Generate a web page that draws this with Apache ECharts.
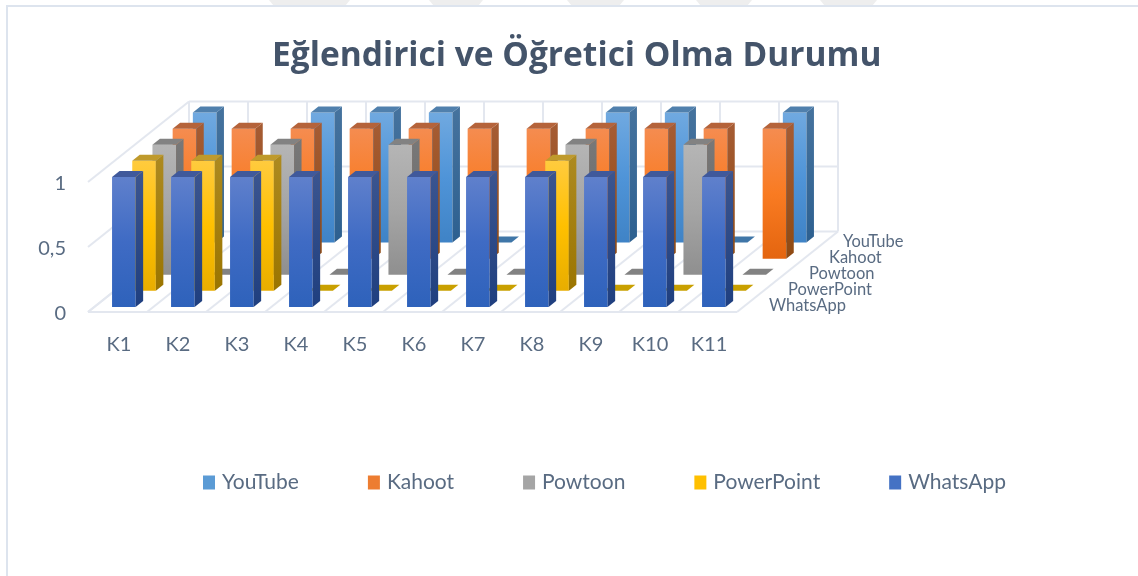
<!DOCTYPE html>
<html>
<head>
<meta charset="utf-8">
<title>Eğlendirici ve Öğretici Olma Durumu</title>
<style>
  html, body { margin: 0; padding: 0; background: #fff; }
  #chart { width: 1138px; height: 576px; }
</style>
<script src="https://cdn.jsdelivr.net/npm/echarts@6/dist/echarts.min.js"></script>
</head>
<body>
<div id="chart"></div>
<script>
const categories = ['K1', 'K2', 'K3', 'K4', 'K5', 'K6', 'K7', 'K8', 'K9', 'K10', 'K11'];
const whatsApp   = [1, 1, 1, 1, 1, 1, 1, 1, 1, 1, 1];
const powerPoint = [1, 1, 1, 0, 0, 0, 0, 1, 0, 0, 0];
const powtoon    = [1, 0, 1, 0, 1, 0, 0, 1, 0, 1, 0];
const kahoot     = [1, 1, 1, 1, 1, 1, 1, 1, 1, 1, 1];
const youTube    = [1, 0, 1, 1, 1, 0, 0, 1, 1, 0, 1];
const yTicks = [0, 0.5, 1];

// sahte 3B: derinlik adimlari (piksel)
const rowDx = 20.2, rowDy = 16.1;
const barDx = 7.5, barDy = 6;
const barW = 23.6;
const textColor = '#596b82';
const wallColor = '#e3e7ef';

const grad = (stops) => new echarts.graphic.LinearGradient(0, 0, 0, 1, stops.map((c, i) => ({
  offset: i / (stops.length - 1), color: c
})));

// row: 0 = onde, 4 = arkada
const rows = [
  { name: 'YouTube', row: 4, data: youTube, legend: '#5b9bd5',
    front: ['#70a9e0', '#4f94d8', '#3f83c6'], side: ['#46739e', '#2d6090'], top: '#5080ad', flat: '#3f76a8', labelX: 843 },
  { name: 'Kahoot', row: 3, data: kahoot, legend: '#ed7d31',
    front: ['#f58c50', '#f97b22', '#e4650f'], side: ['#a65c34', '#8f4a12'], top: '#b5633a', flat: '#b5633a', labelX: 829 },
  { name: 'Powtoon', row: 2, data: powtoon, legend: '#a5a5a5',
    front: ['#b5b5b5', '#a5a5a5', '#8f8f8f'], side: ['#787878', '#666666'], top: '#828282', flat: '#828282', labelX: 809 },
  { name: 'PowerPoint', row: 1, data: powerPoint, legend: '#ffc000',
    front: ['#ffcb3e', '#ffc000', '#e8ad00'], side: ['#ad8a20', '#9b7500'], top: '#bf9a2c', flat: '#c9a000', labelX: 788 },
  { name: 'WhatsApp', row: 0, data: whatsApp, legend: '#4472c4',
    front: ['#5f80cc', '#3f6bc4', '#2e62bb'], side: ['#3b5590', '#1f3f7f'], top: '#40599b', flat: '#40599b', labelX: 769 }
];

function poly(points, fill) {
  return { type: 'polygon', shape: { points }, style: { fill: fill }, silent: true };
}
function seg(a, b) {
  return { type: 'line', shape: { x1: a[0], y1: a[1], x2: b[0], y2: b[1] }, style: { stroke: wallColor, lineWidth: 2 }, silent: true };
}

function renderWalls(params, api) {
  const band = api.size([1, 0])[0];
  const x0 = api.coord([0, 0])[0] - band / 2;
  const depthX = rowDx * 5, depthY = rowDy * 5;
  const children = [];
  yTicks.forEach((t) => {
    const y = api.coord([0, t])[1];
    children.push(seg([x0, y], [x0 + depthX, y - depthY]));
    children.push(seg([x0 + depthX, y - depthY], [x0 + depthX + band * categories.length, y - depthY]));
  });
  const yFloor = api.coord([0, 0])[1], yTop = api.coord([0, 1])[1];
  for (let i = 0; i <= categories.length; i++) {
    const x = x0 + band * i;
    children.push(seg([x, yFloor], [x + depthX, yFloor - depthY]));
    children.push(seg([x + depthX, yFloor - depthY], [x + depthX, yTop - depthY]));
  }
  children.push(seg([x0, yFloor], [x0 + band * categories.length, yFloor]));
  return { type: 'group', children };
}

function barRenderer(conf) {
  return function (params, api) {
    const p = api.coord([api.value(0), api.value(1)]);
    const base = api.coord([api.value(0), 0]);
    const cx = p[0] + (conf.row + 0.5) * rowDx;
    const shiftY = (conf.row + 0.5) * rowDy;
    const l = cx - barW / 2 - barDx / 2;
    const r = l + barW;
    const yb = base[1] - shiftY + barDy / 2;
    const yt = p[1] - shiftY + barDy / 2;
    if (api.value(1) === 0) {
      return poly([[l, yb], [r, yb], [r + barDx, yb - barDy], [l + barDx, yb - barDy]], conf.flat);
    }
    return {
      type: 'group',
      children: [
        poly([[l, yb], [r, yb], [r, yt], [l, yt]], grad(conf.front)),
        poly([[r, yb], [r + barDx, yb - barDy], [r + barDx, yt - barDy], [r, yt]], grad(conf.side)),
        poly([[l, yt], [r, yt], [r + barDx, yt - barDy], [l + barDx, yt - barDy]], conf.top)
      ]
    };
  };
}

// derinlik ekseni etiketleri
function renderDepthLabel(conf) {
  return function (params, api) {
    const p = api.coord([categories.length - 1, 0]);
    return {
      type: 'text',
      silent: true,
      style: {
        text: conf.name, x: conf.labelX, y: p[1] - (conf.row + 0.5) * rowDy + 2,
        fill: textColor, font: '16.5px Lato', textAlign: 'left', textVerticalAlign: 'middle'
      }
    };
  };
}

const series = [{
  type: 'custom', name: 'walls', silent: true, z: 1,
  renderItem: renderWalls,
  data: [[0, 0]],
  encode: { x: 0, y: 1 }
}];
rows.forEach((conf, idx) => {
  series.push({
    type: 'custom',
    name: conf.name,
    z: 2 + idx,
    silent: true,
    renderItem: barRenderer(conf),
    itemStyle: { color: conf.legend },
    data: conf.data.map((v, i) => [i, v]),
    encode: { x: 0, y: 1 }
  });
  series.push({
    type: 'custom', name: conf.name + '_label', z: 10, silent: true,
    renderItem: renderDepthLabel(conf),
    data: [[0, 0]],
    encode: { x: 0, y: 1 }
  });
});

// ustteki soluk filigran parcalari
const tabs = [[269, 350], [429, 483], [567, 624], [696, 752], [820, 877]].map((t) => ({
  type: 'polygon', silent: true, z: 0,
  shape: { points: [[t[0], 0], [t[1], 0], [t[1] - 5, 6], [t[0] + 5, 6]] },
  style: { fill: '#eeeeee' }
}));

const chart = echarts.init(document.getElementById('chart'), null, { renderer: 'canvas' });
chart.setOption({
  animation: false,
  backgroundColor: '#fff',
  title: {
    text: 'Eğlendirici ve Öğretici Olma Durumu',
    left: 267, top: 34,
    textStyle: { color: '#44546a', fontFamily: 'Open Sans', fontWeight: 'bold', fontSize: 33.5 }
  },
  legend: {
    data: rows.map((r) => r.name),
    left: 198, top: 467,
    itemWidth: 12, itemHeight: 14, itemGap: 69,
    icon: 'rect',
    textStyle: { color: textColor, fontFamily: 'Lato', fontSize: 21, padding: [0, 0, 0, 2] }
  },
  grid: { left: 88, right: 401, top: 182, bottom: 264, containLabel: false },
  xAxis: {
    type: 'category',
    data: categories,
    axisLine: { show: false },
    axisTick: { show: false },
    axisLabel: { color: textColor, fontFamily: 'Lato', fontSize: 20, margin: 23, interval: 0, padding: [0, 0, 0, 3] }
  },
  yAxis: {
    type: 'value',
    min: 0, max: 1, interval: 0.5,
    axisLine: { show: false },
    axisTick: { show: false },
    splitLine: { show: false },
    axisLabel: {
      color: textColor, fontFamily: 'Lato', fontSize: 20, margin: 22,
      verticalAlign: 'top', lineHeight: 4,
      formatter: (v) => String(v).replace('.', ',')
    }
  },
  graphic: tabs.concat([
    { type: 'polyline', silent: true, shape: { points: [[7, 576], [7, 6], [1138, 6]] }, style: { stroke: '#dde4ee', lineWidth: 2, fill: null } }
  ]),
  series: series
});
</script>
</body>
</html>
